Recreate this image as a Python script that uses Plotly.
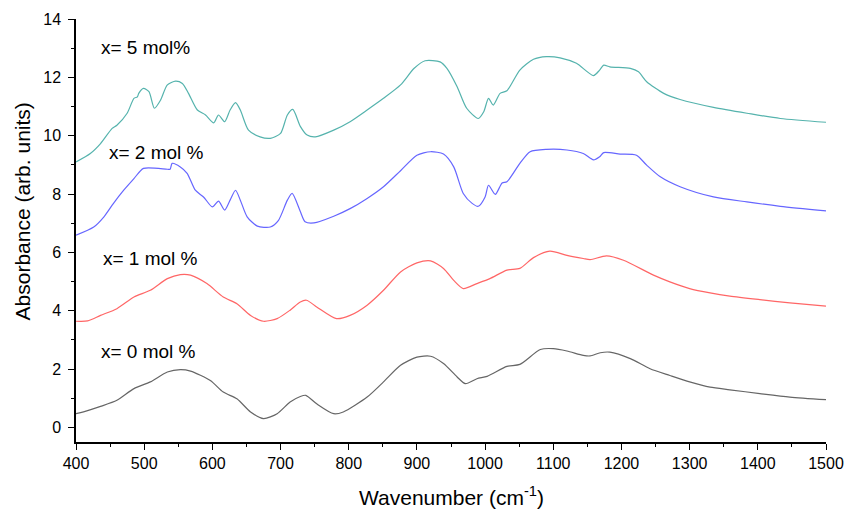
import plotly.graph_objects as go

# x = 0 mol %
x0 = [400, 411, 436, 460, 485, 509, 534, 553, 568, 597, 616, 636, 656, 675, 695, 714, 729, 737, 753, 778, 792, 827, 851, 876, 900, 920, 939, 959, 971, 988, 1003, 1032, 1051, 1081, 1100, 1120, 1144, 1154, 1169, 1183, 1213, 1242, 1271, 1300, 1330, 1359, 1403, 1447, 1500]
y0 = [0.47, 0.53, 0.72, 0.93, 1.33, 1.56, 1.90, 1.98, 1.93, 1.61, 1.21, 0.98, 0.53, 0.30, 0.47, 0.87, 1.06, 1.10, 0.81, 0.47, 0.53, 1.04, 1.56, 2.13, 2.41, 2.44, 2.19, 1.73, 1.50, 1.67, 1.75, 2.09, 2.16, 2.67, 2.70, 2.62, 2.47, 2.45, 2.56, 2.58, 2.36, 2.01, 1.78, 1.56, 1.38, 1.29, 1.16, 1.04, 0.95]

# x = 1 mol %
x1 = [400, 417, 436, 460, 485, 509, 534, 553, 568, 592, 616, 636, 656, 675, 695, 714, 729, 738, 753, 782, 802, 827, 851, 876, 900, 920, 939, 954, 968, 988, 1007, 1032, 1051, 1071, 1095, 1120, 1144, 1154, 1178, 1203, 1247, 1271, 1300, 1330, 1359, 1403, 1447, 1500]
y1 = [3.64, 3.65, 3.84, 4.07, 4.47, 4.70, 5.10, 5.24, 5.22, 4.93, 4.47, 4.24, 3.84, 3.64, 3.73, 4.02, 4.30, 4.36, 4.13, 3.73, 3.84, 4.19, 4.70, 5.33, 5.64, 5.71, 5.45, 5.04, 4.76, 4.93, 5.10, 5.39, 5.45, 5.82, 6.04, 5.90, 5.79, 5.75, 5.88, 5.73, 5.22, 4.99, 4.76, 4.61, 4.50, 4.38, 4.27, 4.16]

# x = 2 mol %
x2 = [400, 426, 441, 455, 470, 485, 499, 534, 538, 541, 553, 563, 575, 587, 600, 609, 618, 626, 634, 641, 651, 666, 685, 697, 710, 717, 729, 736, 749, 778, 802, 827, 851, 876, 900, 920, 939, 954, 968, 981, 990, 1000, 1005, 1015, 1025, 1032, 1051, 1066, 1090, 1120, 1144, 1159, 1168, 1174, 1198, 1222, 1237, 1257, 1286, 1335, 1384, 1433, 1500]
y2 = [6.59, 6.87, 7.22, 7.68, 8.13, 8.53, 8.88, 8.85, 8.85, 9.05, 8.93, 8.71, 8.13, 7.90, 7.56, 7.76, 7.45, 7.79, 8.13, 7.79, 7.22, 6.90, 6.87, 7.10, 7.79, 8.02, 7.40, 7.05, 7.01, 7.24, 7.50, 7.85, 8.25, 8.80, 9.33, 9.45, 9.37, 8.93, 8.02, 7.68, 7.58, 7.90, 8.30, 7.99, 8.38, 8.42, 9.05, 9.45, 9.53, 9.51, 9.39, 9.17, 9.28, 9.42, 9.37, 9.33, 8.99, 8.59, 8.25, 7.90, 7.73, 7.58, 7.42]

# x = 5 mol %
x5 = [400, 421, 436, 453, 460, 475, 485, 490, 492, 499, 507, 515, 524, 534, 546, 556, 565, 578, 590, 602, 609, 618, 626, 634, 641, 653, 670, 685, 700, 710, 718, 729, 739, 751, 778, 802, 827, 851, 876, 896, 912, 934, 944, 959, 973, 990, 998, 1005, 1012, 1022, 1032, 1051, 1071, 1090, 1110, 1134, 1159, 1168, 1174, 1183, 1213, 1225, 1237, 1262, 1286, 1335, 1384, 1433, 1500]
y5 = [9.10, 9.39, 9.73, 10.25, 10.36, 10.77, 11.28, 11.33, 11.45, 11.62, 11.51, 10.94, 11.22, 11.74, 11.87, 11.79, 11.45, 10.88, 10.71, 10.44, 10.71, 10.48, 10.88, 11.13, 10.88, 10.19, 9.96, 9.91, 10.08, 10.71, 10.90, 10.32, 10.02, 9.96, 10.19, 10.48, 10.88, 11.28, 11.74, 12.31, 12.57, 12.53, 12.31, 11.68, 10.94, 10.59, 10.82, 11.28, 11.05, 11.45, 11.54, 12.25, 12.62, 12.71, 12.67, 12.48, 12.06, 12.25, 12.42, 12.36, 12.31, 12.19, 11.85, 11.45, 11.24, 10.97, 10.77, 10.59, 10.46]

labels = ["x= 0 mol %", "x= 1 mol %", "x= 2 mol %", "x= 5 mol%"]
label_x = [433, 437, 446, 433]
label_y = [2.61, 5.80, 9.44, 13.04]

x_title = "Wavenumber (cm<sup>-1</sup>)"
y_title = "Absorbance (arb. units)"

series = [(x0, y0, "#666666"), (x1, y1, "#ff6666"), (x2, y2, "#6666ff"), (x5, y5, "#55b3ad")]

fig = go.Figure()
for (xs, ys, col), name in zip(series, labels):
    fig.add_trace(go.Scatter(x=xs, y=ys, mode="lines", name=name,
                             line=dict(color=col, width=1.2, shape="spline", smoothing=0.7)))

for t, lx, ly in zip(labels, label_x, label_y):
    fig.add_annotation(x=lx, y=ly, text=t, showarrow=False, xanchor="left", yanchor="middle",
                       font=dict(size=19, color="black"))

fig.add_annotation(xref="paper", yref="paper", x=0.5, y=-0.127, text=x_title, showarrow=False,
                   xanchor="center", yanchor="middle", font=dict(size=21, color="black"))
fig.add_annotation(xref="paper", yref="paper", x=-0.072, y=0.545, text=y_title, showarrow=False,
                   textangle=-90, xanchor="center", yanchor="middle", font=dict(size=21, color="black"))

fig.update_layout(
    width=844, height=509,
    margin=dict(l=76, r=18, t=19, b=67),
    paper_bgcolor="white", plot_bgcolor="white",
    showlegend=False,
    font=dict(family="Liberation Sans, Arial, sans-serif", color="black"),
)
fig.update_xaxes(range=[400, 1500], dtick=100, tick0=400, showgrid=False, zeroline=False,
                 automargin=False,
                 showline=True, linecolor="black", linewidth=1.5,
                 ticks="outside", ticklen=6, tickwidth=1.2, tickcolor="black",
                 minor=dict(dtick=50, ticks="outside", ticklen=3, tickcolor="black", tickwidth=1.2),
                 tickfont=dict(size=16))
fig.update_yaxes(range=[-0.5, 14], dtick=2, tick0=0, showgrid=False, zeroline=False,
                 automargin=False,
                 showline=True, linecolor="black", linewidth=1.5,
                 ticks="outside", ticklen=6, tickwidth=1.2, tickcolor="black",
                 minor=dict(dtick=1, ticks="outside", ticklen=3, tickcolor="black", tickwidth=1.2),
                 tickfont=dict(size=16), ticklabelstandoff=4)

fig.write_html("out.html", config={"responsive": False, "displayModeBar": False},
               post_script="document.body.style.margin='0';document.body.style.overflow='hidden';")
